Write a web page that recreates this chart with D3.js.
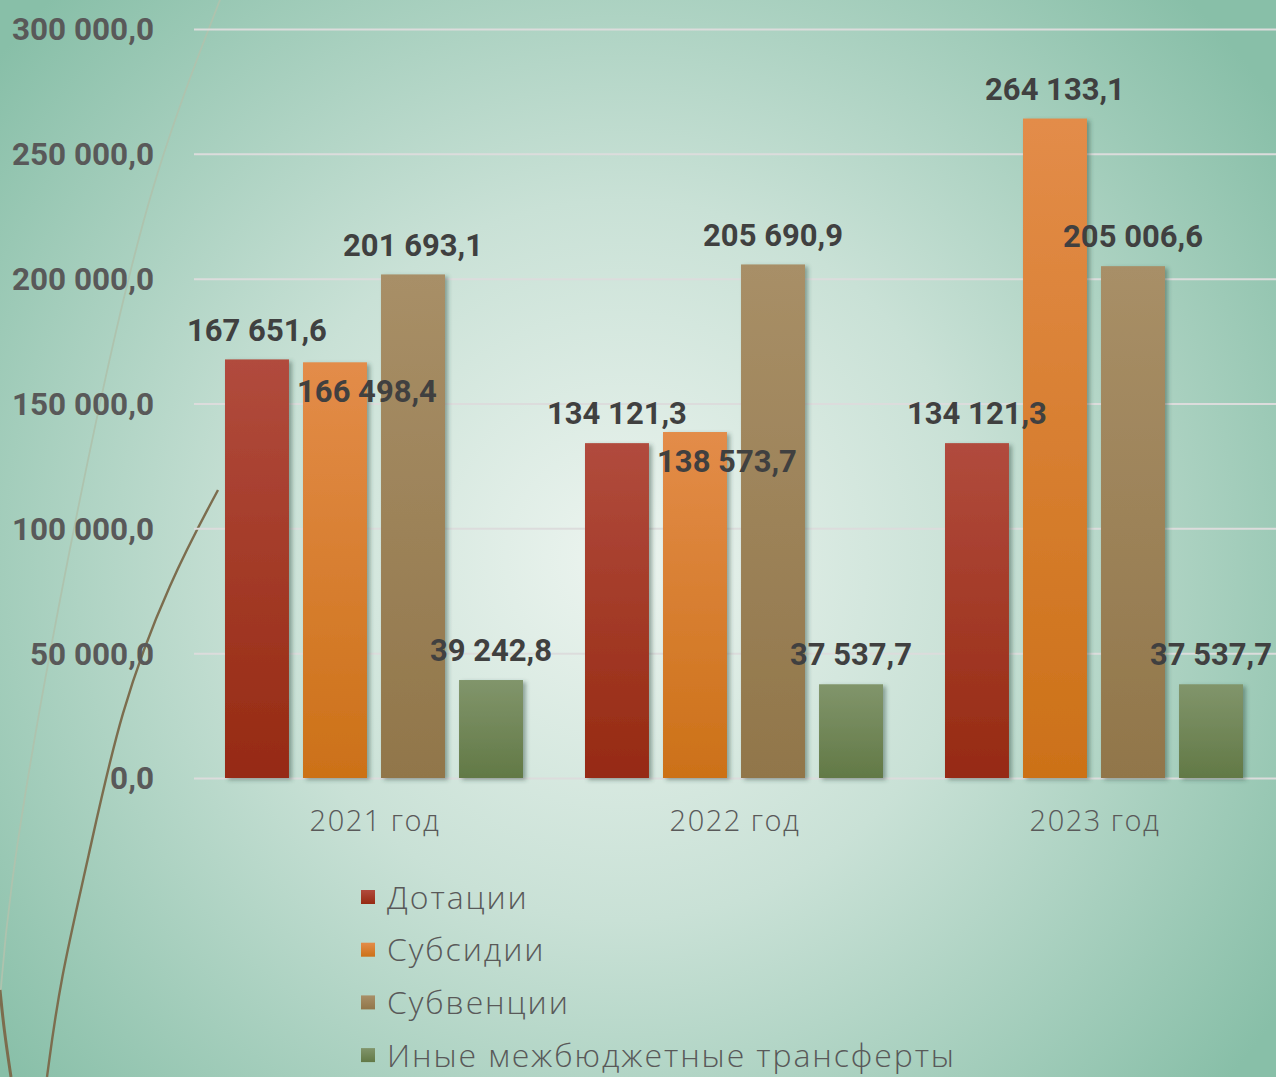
<!DOCTYPE html>
<html>
<head>
<meta charset="utf-8">
<script src="https://cdn.jsdelivr.net/npm/d3@7"></script>
<style>
  html, body { margin: 0; padding: 0; overflow: hidden; }
  svg { display: block; }
</style>
</head>
<body>
<svg width="1276" height="1077"></svg>
<script>
// chart data
const years = ["2021 год", "2022 год", "2023 год"];
const seriesNames = ["Дотации", "Субсидии", "Субвенции", "Иные межбюджетные трансферты"];
const dotacii = [167651.6, 134121.3, 134121.3];
const subsidii = [166498.4, 138573.7, 264133.1];
const subvencii = [201693.1, 205690.9, 205006.6];
const inye = [39242.8, 37537.7, 37537.7];
const yTicks = [0, 50000, 100000, 150000, 200000, 250000, 300000];

const seriesValues = [dotacii, subsidii, subvencii, inye];
// [top, bottom] colours of every series
const seriesColors = [["#b14b3d", "#962a12"], ["#e38c49", "#cc7118"], ["#a88f67", "#91764a"], ["#81956b", "#627946"]];
// labels that PowerPoint pushed inside the bar (series index, year index)
const insideLabels = [[1, 0], [1, 1]];

const svg = d3.select("svg");
const W = +svg.attr("width"), H = +svg.attr("height");
const defs = svg.append("defs");

// background
const bg = defs.append("radialGradient").attr("id", "bg")
  .attr("gradientUnits", "userSpaceOnUse")
  .attr("cx", 620).attr("cy", 560).attr("r", 800);
bg.append("stop").attr("offset", 0).attr("stop-color", "#ecf4ef");
bg.append("stop").attr("offset", 0.45).attr("stop-color", "#c9e1d6");
bg.append("stop").attr("offset", 1).attr("stop-color", "#88bfa8");
svg.append("rect").attr("width", W).attr("height", H).attr("fill", "url(#bg)");

// decorative curves on the left
const curve = d3.line().curve(d3.curveBasis);
svg.append("path")
  .attr("d", curve([[220, 0], [150, 180], [95, 420], [40, 700], [8, 900], [0, 1000]]))
  .attr("fill", "none").attr("stroke", "#aec3ae").attr("stroke-width", 1.8);
svg.append("path")
  .attr("d", curve([[218, 490], [170, 580], [120, 710], [88, 860], [60, 980], [47, 1077]]))
  .attr("fill", "none").attr("stroke", "#7c6d4e").attr("stroke-width", 2.4);
svg.append("path")
  .attr("d", curve([[0, 990], [4, 1030], [11, 1077]]))
  .attr("fill", "none").attr("stroke", "#7c6d4e").attr("stroke-width", 3);

// bar gradients and shadow
seriesColors.forEach((c, i) => {
  const g = defs.append("linearGradient").attr("id", "g" + i)
    .attr("x1", 0).attr("y1", 0).attr("x2", 0).attr("y2", 1);
  g.append("stop").attr("offset", 0).attr("stop-color", c[0]);
  g.append("stop").attr("offset", 1).attr("stop-color", c[1]);
});
const sh = defs.append("filter").attr("id", "shadow")
  .attr("x", "-20%").attr("y", "-5%").attr("width", "150%").attr("height", "115%");
sh.append("feDropShadow").attr("dx", 3).attr("dy", 2).attr("stdDeviation", 2.2)
  .attr("flood-color", "#2f4a40").attr("flood-opacity", 0.45);

// scales
const x0 = d3.scaleBand().domain(years).range([194, 1274]).padding(0);
const x1 = d3.scaleBand().domain(d3.range(seriesNames.length))
  .range([31, x0.bandwidth() - 31]).paddingInner(0.18).paddingOuter(0);
const y = d3.scaleLinear().domain([0, 300000]).range([778, 29]);

const fmt = v => d3.format(",.1f")(v).replace(/,/g, " ").replace(".", ",");

// grid
svg.append("g")
  .attr("transform", "translate(194,0)")
  .call(d3.axisLeft(y).tickValues(yTicks).tickSize(-(W - 194)).tickFormat(""))
  .call(g => g.select(".domain").remove())
  .call(g => g.selectAll("line").attr("stroke", "#dcdcdc").attr("stroke-width", 2));

// y labels
svg.append("g").selectAll("text").data(yTicks).join("text")
  .attr("x", 154).attr("y", d => y(d)).attr("dy", "0.36em")
  .attr("text-anchor", "end")
  .attr("font-family", "Roboto").attr("font-weight", 700).attr("font-size", 31.5)
  .attr("fill", "#595959")
  .text(d => fmt(d));

// bars
const cells = [];
years.forEach((yr, yi) => seriesValues.forEach((vals, si) => cells.push({ yr, yi, si, v: vals[yi] })));

svg.append("g").selectAll("rect").data(cells).join("rect")
  .attr("x", d => x0(d.yr) + x1(d.si))
  .attr("y", d => y(d.v))
  .attr("width", x1.bandwidth())
  .attr("height", d => y(0) - y(d.v))
  .attr("fill", d => `url(#g${d.si})`)
  .attr("filter", "url(#shadow)");

// data labels
const isInside = d => insideLabels.some(p => p[0] === d.si && p[1] === d.yi);
svg.append("g").selectAll("text").data(cells).join("text")
  .attr("x", d => x0(d.yr) + x1(d.si) + x1.bandwidth() / 2 + (isInside(d) ? 32 : 0))
  .attr("y", d => y(d.v) + (isInside(d) ? 29 : -30))
  .attr("dy", "0.36em")
  .attr("text-anchor", "middle")
  .attr("font-family", "Roboto").attr("font-weight", 700).attr("font-size", 31)
  .attr("fill", "#404040")
  .text(d => fmt(d.v));

// x labels
svg.append("g").selectAll("text").data(years).join("text")
  .attr("x", d => x0(d) + x0.bandwidth() / 2 + 1).attr("y", 821).attr("dy", "0.36em")
  .attr("text-anchor", "middle")
  .attr("font-family", "Open Sans").attr("font-weight", 300).attr("font-size", 29)
  .attr("letter-spacing", 1.5)
  .attr("fill", "#595959")
  .text(d => d);

// legend
const legend = svg.append("g").selectAll("g").data(seriesNames).join("g")
  .attr("transform", (d, i) => `translate(361, ${897 + i * 52.7})`);
legend.append("rect").attr("x", 0).attr("y", -7).attr("width", 14).attr("height", 14)
  .attr("fill", (d, i) => `url(#g${i})`);
legend.append("text").attr("x", 26).attr("y", 0).attr("dy", "0.36em")
  .attr("font-family", "Open Sans").attr("font-weight", 300).attr("font-size", 32)
  .attr("letter-spacing", 1.9)
  .attr("fill", "#595959")
  .text(d => d);
</script>
</body>
</html>
